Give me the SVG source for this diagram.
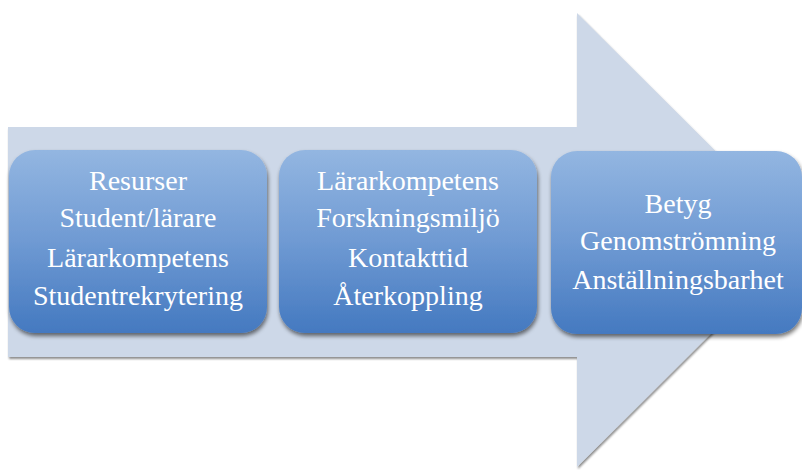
<svg xmlns="http://www.w3.org/2000/svg" width="802" height="470" viewBox="0 0 802 470">
<defs>
<linearGradient id="boxg" x1="0" y1="0" x2="0" y2="1">
<stop offset="0" stop-color="#93B6E1"/>
<stop offset="0.5" stop-color="#6F9AD3"/>
<stop offset="1" stop-color="#4479C0"/>
</linearGradient>
<filter id="sh" x="-10%" y="-10%" width="130%" height="130%">
<feGaussianBlur in="SourceAlpha" stdDeviation="2"/>
<feOffset dx="1" dy="3" result="b"/>
<feComponentTransfer><feFuncA type="linear" slope="0.55"/></feComponentTransfer>
<feMerge><feMergeNode/><feMergeNode in="SourceGraphic"/></feMerge>
</filter>
<filter id="ash" x="-5%" y="-5%" width="110%" height="110%">
<feGaussianBlur in="SourceAlpha" stdDeviation="1.2"/>
<feOffset dx="1" dy="2" result="b"/>
<feComponentTransfer><feFuncA type="linear" slope="0.45"/></feComponentTransfer>
<feMerge><feMergeNode/><feMergeNode in="SourceGraphic"/></feMerge>
</filter>
</defs>
<style>
.box{fill:url(#boxg);filter:url(#sh);}
.t{font-family:"Liberation Serif","DejaVu Serif",serif;font-size:28px;fill:#ffffff;text-anchor:middle;}
</style>
<rect width="802" height="470" fill="#ffffff"/>
<g id="arrow">
<path d="M8 127 H577 V13 L805 240 L577 467 V357 H8 Z" fill="#CDD8E8" filter="url(#ash)"/>
</g>
<g id="node1">
<rect class="box" x="9" y="150" width="258" height="183" rx="26"/>
<text class="t" x="138" y="190">Resurser</text>
<text class="t" x="138" y="227">Student/lärare</text>
<text class="t" x="138" y="267">Lärarkompetens</text>
<text class="t" x="138" y="305">Studentrekrytering</text>
</g>
<g id="node2">
<rect class="box" x="279" y="150" width="258" height="183" rx="26"/>
<text class="t" x="408" y="190">Lärarkompetens</text>
<text class="t" x="408" y="227">Forskningsmiljö</text>
<text class="t" x="408" y="267">Kontakttid</text>
<text class="t" x="408" y="305">Återkoppling</text>
</g>
<g id="node3">
<rect class="box" x="551" y="151" width="251" height="183" rx="26"/>
<text class="t" x="678" y="213">Betyg</text>
<text class="t" x="678" y="250">Genomströmning</text>
<text class="t" x="678" y="289">Anställningsbarhet</text>
</g>
<g id="connectors"></g>
</svg>
